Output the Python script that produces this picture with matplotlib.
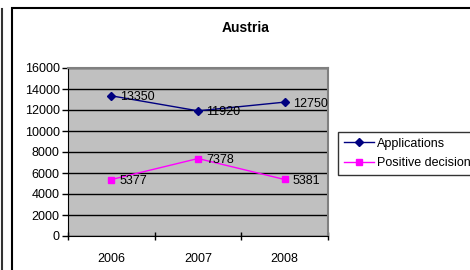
import matplotlib.pyplot as plt
from matplotlib.patches import Rectangle
from matplotlib.lines import Line2D

plt.rcParams['font.family'] = ['Liberation Sans', 'DejaVu Sans']

years = ['2006', '2007', '2008']
applications = [13350, 11920, 12750]
positive = [5377, 7378, 5381]

W, H = 470, 270
fig = plt.figure(figsize=(4.7, 2.7), dpi=100)

# plot area in pixels: x 68..328, y 68..236
ax = fig.add_axes([68 / W, 1 - 236 / H, 260 / W, 168 / H])
ax.set_facecolor('#C0C0C0')

x = [0.5, 1.5, 2.5]
ax.plot(x, applications, color='#000080', marker='D', markersize=4, lw=1, label='Applications')
ax.plot(x, positive, color='#FF00FF', marker='s', markersize=5, lw=1, label='Positive decisions')

for xi, v in zip(x, applications):
    ax.annotate(str(v), (xi, v), xytext=(6, -1), textcoords='offset points',
                va='center', ha='left', fontsize=9)
for xi, v in zip(x, positive):
    ax.annotate(str(v), (xi, v), xytext=(6, -1), textcoords='offset points',
                va='center', ha='left', fontsize=9)

ax.set_xlim(0, 3)
ax.set_ylim(0, 16000)
ax.set_yticks(range(0, 16001, 2000))
ax.set_xticks([0, 1, 2, 3])
ax.set_xticklabels([])
ax.set_xticks(x, minor=True)
ax.set_xticklabels(years, minor=True)
ax.tick_params(axis='x', which='minor', length=0, pad=12, labelsize=9)
ax.tick_params(axis='x', which='major', direction='inout', length=6, width=1)
ax.tick_params(axis='y', direction='out', length=4, width=1, labelsize=9, pad=2)
ax.grid(axis='y', color='black', lw=1)
ax.set_axisbelow(True)
for s in ['top', 'right']:
    ax.spines[s].set_color('#808080')
    ax.spines[s].set_linewidth(1.5)
for s in ['left', 'bottom']:
    ax.spines[s].set_color('black')

fig.text(246 / W, 1 - 28 / H, 'Austria', ha='center', va='center',
         fontsize=10, fontweight='bold')

handles = [Line2D([], [], color='#000080', marker='D', markersize=4, lw=1),
           Line2D([], [], color='#FF00FF', marker='s', markersize=5, lw=1)]
leg = fig.legend(handles, ['Applications', 'Positive decisions'],
                 loc='upper left', bbox_to_anchor=(338 / W, 1 - 132 / H),
                 fontsize=9, frameon=True, fancybox=False, handlelength=2.4,
                 handletextpad=0.3, borderpad=0.45, labelspacing=0.6,
                 borderaxespad=0)
leg.get_frame().set_edgecolor('black')
leg.get_frame().set_linewidth(1)

# chart frame
fig.patches.append(Rectangle((12 / W, -0.1), 1.0, 1 - 8 / H + 0.1,
                             transform=fig.transFigure, fill=False,
                             edgecolor='black', lw=1.5))
fig.add_artist(Line2D([2 / W, 2 / W], [0, 1 - 9 / H], transform=fig.transFigure,
                      color='#333333', lw=1.5))

fig.savefig('out.png', dpi=100)
